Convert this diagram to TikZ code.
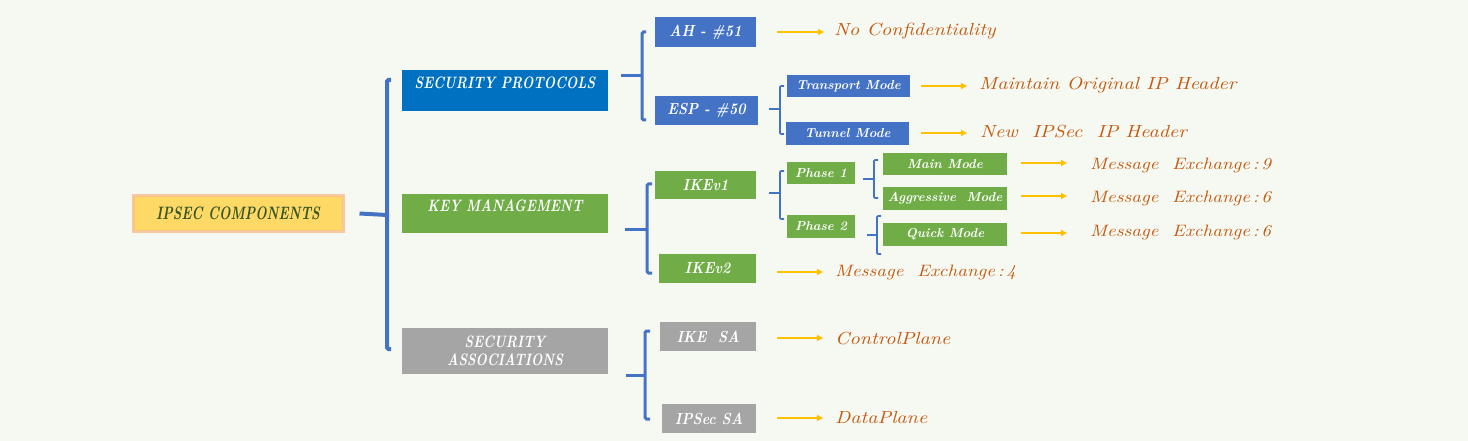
\documentclass[tikz,border=0pt]{standalone}
\usepackage{fontspec}
\usetikzlibrary{arrows.meta}
\newfontfamily\bigbox{lmroman10-bolditalic.otf}[FakeStretch=0.8]
\newfontfamily\rootfont{lmroman10-bolditalic.otf}[FakeStretch=0.74]
\newfontfamily\midbox{lmroman10-bolditalic.otf}[FakeStretch=0.88]
\newfontfamily\smlbox{lmroman10-bolditalic.otf}
\newfontfamily\lblfont{lmroman10-italic.otf}[FakeStretch=1.15]
\definecolor{bg}{RGB}{246,249,242}
\definecolor{spblue}{RGB}{0,112,192}
\definecolor{mblue}{RGB}{68,114,196}
\definecolor{kgreen}{RGB}{112,173,71}
\definecolor{sgray}{RGB}{165,165,165}
\definecolor{yfill}{RGB}{255,217,102}
\definecolor{yglow}{RGB}{248,190,140}
\definecolor{dgreen}{RGB}{55,86,35}
\definecolor{otext}{RGB}{197,90,17}
\definecolor{arr}{RGB}{255,192,0}
\tikzset{
  bx/.style={inner sep=0pt, text=white, align=center},
  big/.style={bx, font=\bigbox\fontsize{16.5}{18}\selectfont},
  mid/.style={bx, font=\midbox\fontsize{16}{18}\selectfont},
  sml/.style={bx, font=\smlbox\fontsize{13}{15}\selectfont},
  lbl/.style={anchor=west, inner sep=0pt, text=otext, font=\lblfont\fontsize{17.5}{19}\selectfont},
  lblm/.style={lbl, font=\lblfont\fontsize{16.5}{19}\selectfont},
  brkA/.style={draw=mblue, line width=4pt, rounded corners=1.5pt},
  brkB/.style={draw=mblue, line width=3pt, rounded corners=1.5pt},
  brkC/.style={draw=mblue, line width=1.6pt, rounded corners=1pt},
  arw/.style={draw=arr, line width=1.5pt, -{Triangle[length=6pt,width=6pt]}},
}
\begin{document}
\begin{tikzpicture}[x=1pt,y=-1pt]
\useasboundingbox[fill=bg] (0,0) rectangle (1468,441);

% root
\node[inner sep=0pt, minimum width=210, minimum height=35, fill=yfill, draw=yglow, draw opacity=0.8, line width=3pt,
  text=dgreen, font=\rootfont\fontsize{18}{20}\selectfont] (comp) at (238,213.5) {IPSEC COMPONENTS};

% level 1
\node[big, fill=spblue, minimum width=206, minimum height=41] (sp) at (505,90.5) {\raisebox{2pt}[0pt][0pt]{SECURITY PROTOCOLS}};
\node[big, fill=kgreen, minimum width=206, minimum height=39] (km) at (505,213.5) {\raisebox{2pt}[0pt][0pt]{KEY MANAGEMENT}};
\node[big, fill=sgray, minimum width=206, minimum height=46] (sa) at (505,351) {SECURITY\\[0pt]ASSOCIATIONS};

% level 2
\node[mid, fill=mblue, minimum width=101, minimum height=30] (ah) at (705.5,32) {AH - \#51};
\node[mid, fill=mblue, minimum width=103, minimum height=29] (esp) at (706.5,110.5) {ESP - \#50};
\node[mid, fill=kgreen, minimum width=101, minimum height=28] (ike1) at (705.5,185) {IKEv1};
\node[mid, fill=kgreen, minimum width=97, minimum height=29] (ike2) at (707.5,268.5) {IKEv2};
\node[mid, fill=sgray, minimum width=96, minimum height=29] (ikesa) at (708,336.5) {IKE\ \ SA};
\node[mid, fill=sgray, minimum width=94, minimum height=29] (ipsa) at (709,418.5) {IPSec SA};

% level 3
\node[sml, fill=mblue, minimum width=123, minimum height=22] (trans) at (848.5,86) {Transport Mode};
\node[sml, fill=mblue, minimum width=123, minimum height=23] (tun) at (847.5,133.5) {Tunnel Mode};
\node[sml, fill=kgreen, minimum width=68, minimum height=22] (ph1) at (821,173) {Phase 1};
\node[sml, fill=kgreen, minimum width=68, minimum height=23] (ph2) at (821,226.5) {Phase 2};

% level 4
\node[sml, fill=kgreen, minimum width=124, minimum height=22] (mainm) at (945,164) {Main Mode};
\node[sml, fill=kgreen, minimum width=124, minimum height=23] (aggm) at (945,198.5) {Aggressive\ \ Mode};
\node[sml, fill=kgreen, minimum width=124, minimum height=23] (qm) at (945,234.5) {Quick Mode};

% labels
\node[lbl] (t1) at (834,31) {No Confidentiality};
\node[lbl] (t2) at (979,85) {Maintain Original IP Header};
\node[lbl] (t3) at (980,132) {New\ \ IPSec\ \ IP Header};
\node[lblm] (t4) at (1090,165) {Message\ \ Exchange\,:\,9};
\node[lblm] (t5) at (1090,198) {Message\ \ Exchange\,:\,6};
\node[lblm] (t6) at (1090,232) {Message\ \ Exchange\,:\,6};
\node[lblm] (t7) at (835,272) {Message\ \ Exchange\,:\,4};
\node[lbl] (t8) at (835,339) {ControlPlane};
\node[lbl] (t9) at (835,418) {DataPlane};

% brackets
\draw[brkA] ([xshift=15pt]comp.east) -- (387,215);
\draw[brkA] (391,80) -- (387,80) -- (387,349) -- (391,349);

\draw[brkB] ([xshift=13pt]sp.east |- 0,76) -- (642,76);
\draw[brkB] (646,32) -- (642,32) -- (642,120) -- (646,120);

\draw[brkB] ([xshift=17pt]km.east |- 0,229) -- (647,229);
\draw[brkB] (652,184) -- (647,184) -- (647,273) -- (652,273);

\draw[brkB] ([xshift=18pt]sa.east |- 0,375) -- (645,375);
\draw[brkB] (650,331) -- (645,331) -- (645,419) -- (650,419);

\draw[brkC] ([xshift=11pt]esp.east |- 0,109) -- (780,109);
\draw[brkC] (784,86) -- (780,86) -- (780,134) -- (784,134);

\draw[brkC] ([xshift=13pt]ike1.east |- 0,193) -- (780,193);
\draw[brkC] (784,171) -- (780,171) -- (780,219) -- (784,219);

\draw[brkC] ([xshift=8pt]ph1.east |- 0,179) -- (874,179);
\draw[brkC] (878,160) -- (874,160) -- (874,198) -- (878,198);

\draw[brkC] ([xshift=12pt]ph2.east |- 0,235) -- (877,235);
\draw[brkC] (881,216) -- (877,216) -- (877,254) -- (881,254);

% arrows
\draw[arw] ([xshift=21pt]ah.east |- 0,32) -- ([xshift=-10pt]t1.west |- 0,32);
\draw[arw] ([xshift=11pt]trans.east |- 0,86) -- ([xshift=-12pt]t2.west |- 0,86);
\draw[arw] ([xshift=12pt]tun.east |- 0,133) -- ([xshift=-13pt]t3.west |- 0,133);
\draw[arw] ([xshift=14pt]mainm.east |- 0,163) -- ([xshift=-23pt]t4.west |- 0,163);
\draw[arw] ([xshift=14pt]aggm.east |- 0,196) -- ([xshift=-23pt]t5.west |- 0,196);
\draw[arw] ([xshift=14pt]qm.east |- 0,233) -- ([xshift=-23pt]t6.west |- 0,233);
\draw[arw] ([xshift=21pt]ike2.east |- 0,272) -- ([xshift=-12pt]t7.west |- 0,272);
\draw[arw] ([xshift=21pt]ikesa.east |- 0,338) -- ([xshift=-12pt]t8.west |- 0,338);
\draw[arw] ([xshift=21pt]ipsa.east |- 0,418) -- ([xshift=-12pt]t9.west |- 0,418);
\end{tikzpicture}
\end{document}
